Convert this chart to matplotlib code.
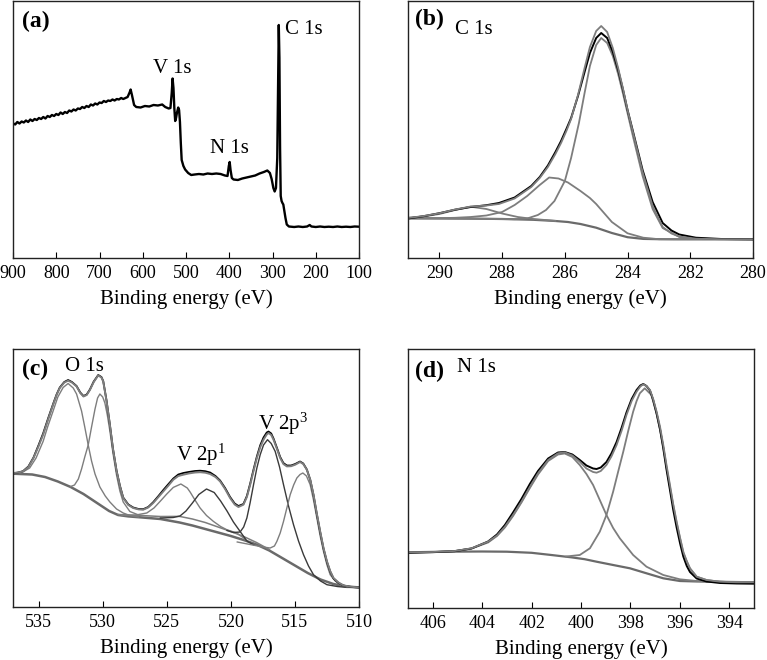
import matplotlib
matplotlib.use('Agg')
import matplotlib.pyplot as plt

plt.rcParams['font.family'] = ['Liberation Serif', 'DejaVu Serif']
plt.rcParams['mathtext.fontset'] = 'custom'
plt.rcParams['mathtext.rm'] = 'Liberation Serif'
plt.rcParams['mathtext.it'] = 'Liberation Serif:italic'

# ---- (a) survey spectrum
survey_ev = [900, 895, 890, 885, 880, 875, 870, 865, 860, 855, 850, 845, 840, 835, 830, 825, 820,
             815, 810, 805, 800, 795, 790, 785, 780, 775, 770, 765, 760, 755, 750, 745, 740, 735,
             730, 725, 720, 715, 710, 705, 700, 695, 690, 685, 680, 675, 670, 665, 660, 655, 650,
             645, 640, 635, 630, 628, 625, 620, 615, 605,
             595, 585, 575, 565, 555, 548, 540, 536, 533, 531, 529, 527, 525, 523, 521, 518, 516,
             514, 512, 510, 506, 502, 495, 488, 480, 470, 460, 450, 440, 430, 420, 410, 404, 401,
             399, 397, 394, 390, 380, 370, 360, 350, 340, 330, 320, 312, 306, 302, 298, 295, 292,
             289, 287, 285.5, 284, 282.5, 281, 279, 277, 275, 273, 270, 267, 262, 250, 240, 230,
             220, 214, 210, 200, 190, 180, 170, 160, 150, 140, 130, 120, 110, 100]
survey = [134.7, 133.5, 136, 134.5, 136.5, 135.5, 137.5, 136, 138.5, 137, 139, 138, 140, 139, 141,
          139.5, 142, 141, 143, 142, 144, 143, 145.5, 144, 146, 145, 147.5, 146.5, 148.5, 147.5,
          149.5, 149, 151, 150, 152, 151, 153.5, 152.5, 154.5, 153.5, 155.5, 155, 157, 156, 157.5,
          157, 158.5, 157.5, 159, 158.5, 160, 159, 160, 161, 166, 168.5,
          163, 153, 151, 150.5, 152, 151.5, 153, 152.5, 153.5, 151, 149.5, 150, 165, 179.5, 170,
          150, 137, 140, 145, 150.5, 148, 136, 115, 98, 92, 88.5, 85, 83, 83.5, 84, 83.5, 84.5, 84,
          84.5, 84, 82.5, 82, 92, 96, 88, 80, 78.5, 78, 79.5, 80.5, 81.5, 82.5, 84.5, 86, 87.5, 85,
          79, 70, 66.5, 70, 100, 180, 233, 200, 110, 62, 57, 55, 53.5, 48, 40, 33.5, 31.5, 31, 31.5,
          31, 31.5, 33, 31.5, 31, 31.5, 31, 31.3, 31, 31.5, 31, 31.3, 31, 31.5, 31.3]

# ---- (b) C 1s
c1s_bg_ev = [291, 290, 289, 288, 287, 286.3, 285.9, 285.5, 285.0, 284.5, 284.0, 283.5, 283.0, 282.5, 280]
c1s_bg = [39.7, 39.6, 39.4, 39.0, 38.2, 37.0, 36.0, 34.0, 30.3, 25.0, 20.8, 19.1, 18.8, 18.7, 18.7]
c1s_p1_ev = [291, 290.5, 290, 289.5, 289.0, 288.5, 288.0, 287.5, 287.0, 286.3]
c1s_p1 = [40.3, 41.5, 44, 48, 51.3, 49, 44.5, 41, 39, 37.1]
c1s_p2_ev = [291, 290, 289.5, 289, 288.5, 288, 287.6, 287.2, 286.8, 286.5, 286.2, 285.9, 285.5,
             285.2, 285.0, 284.5, 284.0, 283.5, 283.0, 280]
c1s_p2 = [39.7, 39.8, 40.2, 41, 42.5, 46, 53, 62, 73, 80.5, 79.5, 75.5, 67, 60, 54, 36, 24.7,
          20.3, 18.8, 18.7]
c1s_p3_ev = [291, 288, 287.6, 287.2, 286.86, 286.6, 286.33, 286.0, 285.8, 285.55, 285.37, 285.2,
             285.0, 284.84, 284.65, 284.47, 284.3, 284.15, 283.83, 283.52, 283.2, 282.88, 282.35,
             281.82, 280]
c1s_p3 = [39.7, 39.0, 38.8, 39.5, 43, 48, 57, 77, 100, 135, 165, 192, 213, 220, 215, 202, 184,
          165, 122, 82, 49, 30, 21, 19, 18.7]
c1s_fit_ev = [291, 290.5, 290, 289.5, 289, 288.5, 288.1, 287.6, 287.07, 286.8, 286.54, 286.3,
              286.12, 285.95, 285.8, 285.58, 285.37, 285.2, 285.0, 284.84, 284.65, 284.47, 284.3,
              284.15, 284.0, 283.83, 283.52, 283.2, 282.88, 282.6, 282.35, 281.82, 281, 280]
c1s_fit = [40, 42, 44.7, 48.5, 51.5, 52.5, 54, 59.5, 71, 80, 91, 104, 115, 127, 139, 163, 190, 211,
           227, 232, 226, 210, 190, 170, 148, 126, 86, 52, 31, 24.5, 21.5, 19.3, 18.8, 18.7]
c1s_raw = [39.5, 41.8, 44.8, 48.3, 51, 52.8, 55, 60.5, 72, 81, 92.5, 106, 117, 129, 140, 162, 186,
           205, 220, 225, 220, 206, 188, 169, 148, 127, 88, 56, 35, 27.5, 23.5, 20.3, 19, 18.7]

# ---- (c) O 1s / V 2p
v2p_bg_ev = [537, 535.5, 534.5, 533.5, 532.5, 531.5, 530.5, 529.5, 528.8, 528, 527, 525.5, 524,
             523, 522, 521, 520, 519, 518, 517, 516, 515, 514, 513, 512, 511, 510]
v2p_bg = [133.3, 132.5, 130, 125.5, 120, 113, 104.5, 96, 92, 90.6, 89.6, 88, 84.5, 81.5, 78, 74.5,
          71, 67, 62.5, 56.5, 49, 41.5, 34, 27.5, 23, 20.5, 19.6]
v2p_bg2_ev = [528.8, 527, 525.5, 524, 523, 522, 521, 520, 519, 518, 517]
v2p_bg2 = [92.5, 91.5, 90.5, 90.6, 88, 84.5, 80, 75.5, 70.5, 64.5, 57.5]
o1s_a_ev = [537, 536.3, 535.7, 535.2, 534.65, 534.3, 533.87, 533.5, 533.09, 532.7, 532.3, 532.04,
            531.65, 531.4, 531.13, 530.87, 530.6, 530.22, 529.8, 529.44, 528.92, 528.4, 527.88, 527.2]
o1s_a = [133.3, 134.5, 139, 149, 165.6, 180, 196, 210, 219.5, 223.5, 219, 213, 196, 180, 162, 146,
         133, 120, 111, 105, 98, 94, 91.5, 90]
o1s_b_ev = [532.5, 532.2, 531.9, 531.65, 531.4, 531.13, 530.87, 530.6, 530.4, 530.22, 530.0, 529.83,
            529.64, 529.44, 529.2, 528.92, 528.66, 528.4, 527.88, 527.1]
o1s_b = [120.5, 122, 128, 138, 150, 162, 180, 198, 209, 213, 210, 204, 192, 176, 154, 132, 116, 105,
         95.5, 91.5]
v2p1_a_ev = [528.5, 527.5, 526.56, 526.0, 525.52, 525.0, 524.49, 523.9, 523.4, 523.18, 522.8, 522.4,
             521.9, 521.36, 520.8, 520.32, 519.54, 518.9]
v2p1_a = [91.5, 91.8, 94, 99, 105.6, 113, 119.6, 123, 119, 115, 107, 99, 91.5, 85.6, 80.5, 77.3, 74, 68]
v2p1_b_ev = [525.5, 524.5, 523.97, 523.5, 523.0, 522.5, 521.9, 521.3, 520.8, 520.3, 519.8, 519.28,
             518.75, 518.2]
v2p1_b = [89, 89.5, 91, 96, 104, 112.5, 118, 114.5, 106, 96, 85, 75.6, 66, 62]
v2p3_a_ev = [520.3, 519.8, 519.28, 519.0, 518.75, 518.5, 518.23, 517.97, 517.71, 517.45, 517.14,
             516.85, 516.54, 516.2, 515.89, 515.5, 515.11, 514.72, 514.33, 513.94, 513.55, 513.0,
             512.5, 511.7, 510.95, 510]
v2p3_a = [76.5, 74.5, 75, 80, 89, 104, 122.3, 139, 152.3, 162, 167.3, 163.5, 155.6, 140, 122.3, 101,
          82.3, 66, 52.3, 41, 32.3, 26, 22.3, 20.5, 19.6, 19.6]
v2p3_b_ev = [519.5, 518.5, 517.5, 516.93, 516.6, 516.41, 516.15, 515.89, 515.63, 515.37, 515.1,
             514.85, 514.6, 514.38, 514.1, 513.81, 513.55, 513.29, 513.03, 512.77, 512.5, 512.25,
             511.86, 511.47, 510.9, 510]
v2p3_b = [65, 62.5, 60, 59, 61, 65.6, 74, 85.6, 99, 112.3, 122, 129, 132.5, 134, 131, 122.3, 107, 89,
          71, 55.6, 42, 32.3, 26, 22.3, 20, 19.6]
v2p_fit_ev = [537, 536.6, 536.22, 535.8, 535.4, 535.0, 534.65, 534.25, 533.87, 533.6, 533.35, 533.0,
              532.7, 532.4, 532.04, 531.75, 531.5, 531.25, 531.0, 530.7, 530.35, 530.1, 529.96, 529.7,
              529.44, 529.2, 528.92, 528.66, 528.4, 528.0, 527.62, 527.2, 526.84, 526.45, 526.06,
              525.65, 525.27, 524.9, 524.49, 524.1, 523.71, 523.3, 522.8, 522.4, 522.0, 521.62, 521.2,
              520.84, 520.45, 520.06, 519.7, 519.41, 519.02, 518.75, 518.49, 518.23, 517.97, 517.7,
              517.45, 517.2, 517.06, 516.85, 516.67, 516.4, 516.15, 515.9, 515.63, 515.3, 514.98,
              514.6, 514.35, 514.07, 513.8, 513.55, 513.3, 513.03, 512.77, 512.5, 512.25, 511.99,
              511.6, 511.21, 510.6, 510]
v2p_fit = [134, 134.5, 135.6, 140, 149, 161, 172.3, 188, 202.3, 212, 219, 224.5, 226.3, 224.5, 220.6,
           214, 210.5, 212, 217, 225, 231.6, 229.5, 225.6, 206, 182, 158, 136, 121, 109, 102, 99, 97.6,
           97.3, 99.5, 104, 110, 115.6, 121, 127.3, 131, 132.3, 133.5, 134.5, 134.8, 134.3, 133, 130,
           125.6, 118, 109, 102.5, 100, 102.3, 110, 122.3, 136, 149, 160, 167.3, 172.5, 174, 172,
           167.3, 158, 149, 143, 140.6, 140.8, 142.3, 145, 143, 137.3, 127, 112.3, 94, 75.6, 59, 45.6,
           36, 29, 24.5, 21.6, 20.2, 19.6]
v2p_raw = [133.5, 134.5, 135.8, 140.5, 149.5, 162, 173.5, 189, 203, 212.5, 219.5, 225, 227, 225,
           221, 214.5, 211, 212.5, 217.5, 225.5, 232, 230, 226, 206.5, 182.5, 158.5, 136.5, 121.5,
           109.5, 102.5, 99.5, 98, 97.8, 100, 104.8, 111, 117, 122.5, 128.5, 132.5, 134, 135, 136,
           136.3, 135.8, 134.5, 131, 126.5, 119, 110, 103.5, 101, 103, 111, 123.5, 137.5, 150.5, 162,
           169.5, 174.5, 175.5, 173.5, 168.5, 159, 150, 144, 141.5, 141.5, 143, 145.5, 143.5, 137.5,
           127, 112, 93.5, 75, 58.5, 45, 35.5, 28.5, 24, 21.5, 20, 19.5]

# ---- (d) N 1s
n1s_bg_ev = [407, 405.5, 404, 403, 402, 401.2, 400.4, 399.85, 399.37, 398.7, 398.02, 397.35, 396.67,
             396.0, 395.3, 394.65, 393]
n1s_bg = [55.7, 56.3, 56.5, 56.3, 55.2, 53, 50.7, 48.8, 46.3, 43, 39.7, 34.7, 29.7, 27, 26.5, 26.3, 25.7]
n1s_p1_ev = [407, 406, 405.11, 404.43, 403.76, 403.4, 403.08, 402.75, 402.41, 402.07, 401.74,
             401.33, 400.93, 400.66, 400.35, 400.05, 399.78, 399.51, 399.24, 398.97, 398.7, 398.43,
             397.89, 397.35, 396.67, 396.0, 395.32, 394.65, 393.0]
n1s_p1 = [55.7, 56, 57, 59.5, 65.5, 72, 80.5, 92, 105.5, 120, 133.5, 147, 153.5, 154.5, 151, 143,
          134, 123, 108, 93, 80, 69.7, 53, 41.3, 33, 28.7, 27, 26.3, 25.7]
n1s_p2_ev = [400.6, 400.05, 399.64, 399.24, 398.97, 398.7, 398.5, 398.29, 398.09, 397.89, 397.75,
             397.62, 397.42, 397.15, 396.94, 396.8, 396.67, 396.54, 396.4, 396.27, 396.13, 395.86,
             395.59, 395.32, 394.92, 394.38, 393.71, 393.03]
n1s_p2 = [51.5, 53, 59.7, 76.3, 93, 116.3, 136, 156.3, 177, 196.3, 207, 214.7, 219.7, 213, 194,
          178, 161, 141, 121, 103, 85, 55, 39.5, 31.3, 28, 26.3, 25.7, 25.7]
n1s_fit_ev = [407, 406, 405.11, 404.43, 403.76, 403.4, 403.08, 402.75, 402.41, 402.07, 401.74,
              401.33, 400.93, 400.66, 400.35, 400.05, 399.78, 399.51, 399.37, 399.2, 398.97, 398.77,
              398.56, 398.36, 398.16, 397.95, 397.75, 397.6, 397.48, 397.35, 397.21, 397.08, 396.94,
              396.8, 396.67, 396.54, 396.4, 396.27, 396.13, 395.99, 395.86, 395.72, 395.59, 395.32,
              394.92, 394.38, 393.71, 393.03]
n1s_fit = [55.7, 56, 57, 59.7, 66.3, 72.5, 81.3, 93, 106.3, 121, 134.7, 148, 154.7, 155.7, 152.5,
           146.3, 139.5, 136, 135.3, 137, 143, 151.5, 163, 177, 193, 207, 216.3, 221.5, 223.7, 222,
           218, 209, 196.3, 181, 163, 143, 123, 104, 86.3, 70, 56.3, 46.5, 39.7, 31.3, 28, 26.3,
           25.7, 25.7]
n1s_raw = [55.2, 55.8, 56.8, 59.5, 66.5, 73.5, 83, 95.5, 109, 124, 137, 149.5, 155.5, 156, 153.5,
           148, 142.5, 139.5, 139, 140.5, 146, 154.5, 166, 180, 195.5, 209, 218, 222.5, 224, 222,
           217.5, 208, 194.5, 178.5, 159.5, 138.5, 118, 98.5, 80.5, 64.5, 51.5, 42, 36, 29.5, 26.5,
           25, 24.5, 24.3]

panel_xlims = [(900, 100), (291, 280), (537, 510), (407, 393)]
panel_ticks = [list(range(900, 99, -100)), list(range(290, 279, -2)),
               list(range(535, 509, -5)), list(range(406, 393, -2))]

fig = plt.figure(figsize=(7.67, 6.6), dpi=100)
W, H = 767.0, 660.0
boxes = [(13, 1, 359, 258), (408, 1, 753, 258), (13, 349, 359, 607), (408, 349, 754, 608)]
axes = []
for (x0, y0, x1, y1) in boxes:
    ax = fig.add_axes([x0 / W, 1 - y1 / H, (x1 - x0) / W, (y1 - y0) / H])
    axes.append(ax)

grey = '#7d7d7d'
dark = '#3a3a3a'
bgc = '#6a6a6a'

ax = axes[0]
ax.plot(survey_ev, survey, color='black', lw=1.7)

ax = axes[1]
ax.plot(c1s_bg_ev, c1s_bg, color=bgc, lw=1.6)
ax.plot(c1s_p1_ev, c1s_p1, color=grey, lw=1.3)
ax.plot(c1s_p2_ev, c1s_p2, color=grey, lw=1.3)
ax.plot(c1s_p3_ev, c1s_p3, color=grey, lw=1.3)
ax.plot(c1s_fit_ev, c1s_raw, color='black', lw=1.4)
ax.plot(c1s_fit_ev, c1s_fit, color=grey, lw=1.3)

ax = axes[2]
ax.plot(v2p_bg_ev, v2p_bg, color=bgc, lw=1.8)
ax.plot(v2p_bg2_ev, v2p_bg2, color=grey, lw=1.1)
ax.plot(o1s_a_ev, o1s_a, color=grey, lw=1.0)
ax.plot(o1s_b_ev, o1s_b, color=grey, lw=1.0)
ax.plot(v2p1_a_ev, v2p1_a, color=grey, lw=1.0)
ax.plot(v2p1_b_ev, v2p1_b, color=dark, lw=1.0)
ax.plot(v2p3_a_ev, v2p3_a, color=dark, lw=1.0)
ax.plot(v2p3_b_ev, v2p3_b, color=grey, lw=1.0)
ax.plot(v2p_fit_ev, v2p_raw, color='black', lw=1.3)
ax.plot(v2p_fit_ev, v2p_fit, color=grey, lw=1.4)

ax = axes[3]
ax.plot(n1s_bg_ev, n1s_bg, color=bgc, lw=1.6)
ax.plot(n1s_p1_ev, n1s_p1, color=grey, lw=1.3)
ax.plot(n1s_p2_ev, n1s_p2, color=grey, lw=1.3)
ax.plot(n1s_fit_ev, n1s_raw, color='black', lw=1.4)
ax.plot(n1s_fit_ev, n1s_fit, color=grey, lw=1.3)

heights = [257, 257, 258, 259]
for ax, xl, tk, h in zip(axes, panel_xlims, panel_ticks, heights):
    ax.set_xlim(xl)
    ax.set_ylim(0, h)
    ax.set_xticks(tk)
    ax.set_yticks([])
    ax.tick_params(axis='x', direction='in', length=4, width=0.8, labelsize=13, pad=5)
    for s in ax.spines.values():
        s.set_linewidth(1.0)
        s.set_color('#222222')
    ax.set_xlabel('Binding energy (eV)', fontsize=15, labelpad=5)

lab = dict(fontsize=17, fontweight='bold', va='baseline', ha='left')
ann = dict(fontsize=15, va='baseline', ha='left')

axes[0].text(0.026, 0.898, '(a)', transform=axes[0].transAxes, **lab)
axes[0].text(0.405, 0.721, 'V 1s', transform=axes[0].transAxes, **ann)
axes[0].text(0.569, 0.410, 'N 1s', transform=axes[0].transAxes, **ann)
axes[0].text(0.786, 0.870, 'C 1s', transform=axes[0].transAxes, **ann)

axes[1].text(0.020, 0.907, '(b)', transform=axes[1].transAxes, **lab)
axes[1].text(0.136, 0.872, 'C 1s', transform=axes[1].transAxes, **ann)

axes[2].text(0.025, 0.900, '(c)', transform=axes[2].transAxes, **lab)
axes[2].text(0.149, 0.913, 'O 1s', transform=axes[2].transAxes, **ann)
axes[2].text(0.472, 0.568, 'V 2p$^{\\mathrm{1}}$', transform=axes[2].transAxes, **ann)
axes[2].text(0.708, 0.687, 'V 2p$^{\\mathrm{3}}$', transform=axes[2].transAxes, **ann)

axes[3].text(0.020, 0.892, '(d)', transform=axes[3].transAxes, **lab)
axes[3].text(0.141, 0.913, 'N 1s', transform=axes[3].transAxes, **ann)

plt.savefig('out.png', dpi=100)
